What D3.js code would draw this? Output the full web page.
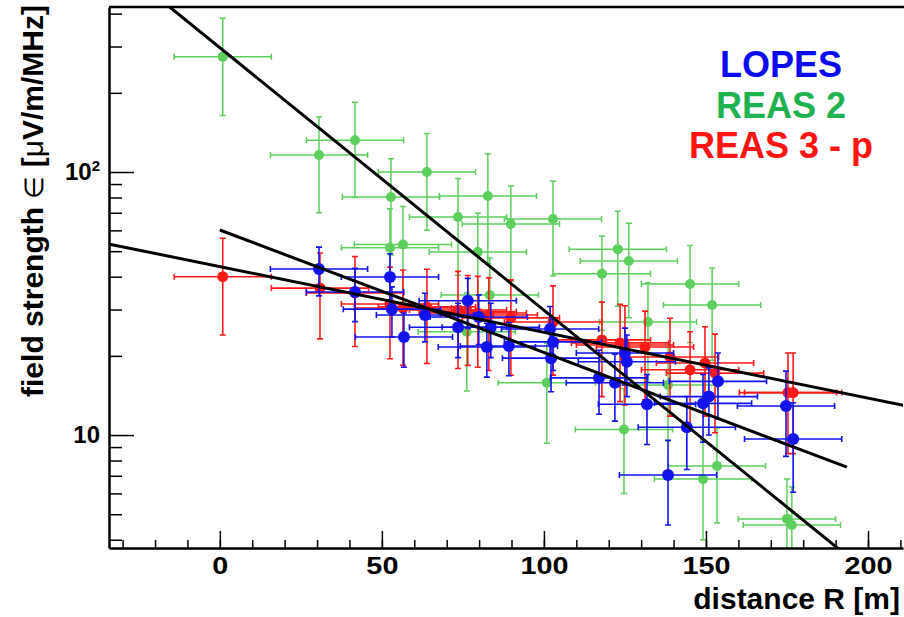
<!DOCTYPE html>
<html>
<head>
<meta charset="utf-8">
<script src="https://cdn.jsdelivr.net/npm/d3@7"></script>
<style>
  body { margin: 0; background: #fff; }
  text { font-family: "Liberation Sans", Arial, sans-serif; font-weight: bold; }
</style>
</head>
<body>
<svg id="chart" width="904" height="617"></svg>
<script>
"use strict";

// REAS 2 (green)
var distReas2 = [0.9, 30.6, 41.7, 52.8, 63.9, 73.5, 82.7, 89.8, 102.8, 52.5, 56.5, 79.6, 122.8, 126.2,
  117.9, 145.1, 151.9, 132.1, 83.3, 76.2, 100.9, 138.3, 124.7, 153.4, 149.1, 175.0, 176.5];
var fieldReas2 = [274, 116, 132, 80.4, 100, 67.5, 81, 63.4, 66.3, 51.5, 53, 49.7, 50.9, 45.9,
  41.0, 37.5, 31.2, 26.9, 34.1, 24.7, 15.8, 15.5, 10.5, 7.63, 6.8, 4.8, 4.55];
var errFieldReas2 = [110, 46, 52, 32, 40, 27, 36, 25, 26, 21, 21, 20, 20, 18,
  16, 15, 12, 11, 13, 10, 6.5, 6, 4.5, 3, 2.8, 2, 1.8];

// REAS 3 - p (red)
var distReas3 = [0.9, 30.9, 41.7, 52.5, 56.5, 63.9, 73.5, 76.5, 79.6, 83.0, 89.8, 102.8, 117.9, 123.5,
  125.0, 131.2, 138.9, 145.1, 149.7, 152.8, 175.3, 176.9];
var fieldReas3 = [40, 36.2, 34.7, 31.5, 30.4, 30.7, 29.9, 29.4, 29.1, 28.6, 27.9, 26.9, 23.0, 22.4,
  22.0, 21.6, 19.8, 17.7, 18.8, 17.2, 14.5, 14.5];
var errFieldReas3 = [16, 13, 13, 12, 12, 12, 12, 11, 11, 11, 11, 10, 9, 9,
  9, 8, 8, 7, 7, 7, 6, 6];

// LOPES (blue)
var distLopes = [30.6, 41.7, 52.5, 53.1, 56.8, 63.3, 73.5, 76.5, 79.9, 83.6, 82.4, 89.2, 101.9, 102.8,
  102.2, 117.0, 121.9, 125.0, 125.6, 131.8, 144.1, 138.3, 149.1, 150.9, 153.7, 174.7, 176.9];
var fieldLopes = [42.8, 35.0, 39.9, 30.1, 23.6, 28.6, 25.7, 32.4, 28.1, 25.7, 21.6, 21.8, 25.3, 22.6,
  19.6, 16.5, 15.8, 20.5, 19.0, 13.1, 10.7, 7.05, 13.2, 14.0, 16.0, 12.9, 9.66];
var errFieldLopes = [9, 8, 9, 6.5, 5.5, 6, 6, 7, 6, 6, 5, 5, 5.5, 5,
  5, 4.5, 4.5, 5, 5, 3.9, 3.3, 2.5, 3.8, 4, 4.5, 4.6, 3.6];

// distance uncertainty [m], same for every point here
var errDist = 15;

// exponential fits: field = amp * 10^(slope * R)
var fitNames = ["REAS 2", "LOPES", "REAS 3 - p"];
var fitAmp = [297, 60.2, 43.7];
var fitSlope = [-0.00998, -0.00466, -0.0025];
var fitFrom = [-34, 0, -34];
var fitTo = [211, 193.5, 211];

var xMajorTicks = [0, 50, 100, 150, 200];
var xMinorTicks = d3.range(-30, 211, 10);
var yMajorTicks = [10, 100];
var yMinorTicks = [4, 5, 6, 7, 8, 9, 20, 30, 40, 50, 60, 70, 80, 90, 200, 300, 400];

var legendNames = ["LOPES", "REAS 2", "REAS 3 - p"];
var legendColors = ["#0a0af0", "#1fb34f", "#ff1414"];

var svg = d3.select("#chart");
var plotL = 109, plotR = 903, plotT = 7, plotB = 548;

var x = d3.scaleLinear().domain([-34.2, 210.8]).range([plotL, plotR]);
var y = d3.scaleLog().domain([3.72, 424]).range([plotB, plotT]);

svg.append("rect").attr("width", 904).attr("height", 617).attr("fill", "#fff");

svg.append("clipPath").attr("id", "plotclip")
  .append("rect")
  .attr("x", plotL).attr("y", plotT)
  .attr("width", plotR - plotL).attr("height", plotB - plotT);

var plot = svg.append("g").attr("clip-path", "url(#plotclip)");

function drawSeries(dist, field, errField, color, radius, width) {
  var g = plot.append("g");
  var pts = dist.map(function(d, i) {
    return { r: d, e: field[i], de: errField[i] };
  });
  var bars = g.selectAll("g.pt").data(pts).enter().append("g")
    .attr("stroke", color).attr("stroke-width", width).attr("fill", "none");
  // horizontal
  bars.append("line")
    .attr("x1", function(p) { return x(p.r - errDist); })
    .attr("x2", function(p) { return x(p.r + errDist); })
    .attr("y1", function(p) { return y(p.e); })
    .attr("y2", function(p) { return y(p.e); });
  // vertical
  bars.append("line")
    .attr("x1", function(p) { return x(p.r); })
    .attr("x2", function(p) { return x(p.r); })
    .attr("y1", function(p) { return y(p.e + p.de); })
    .attr("y2", function(p) { return y(Math.max(p.e - p.de, 0.5)); });
  // caps
  bars.append("path")
    .attr("d", function(p) {
      var cx = x(p.r), cy = y(p.e);
      var xl = x(p.r - errDist), xr = x(p.r + errDist);
      var yt = y(p.e + p.de), yb = y(Math.max(p.e - p.de, 0.5));
      return "M" + xl + "," + (cy - 3) + "V" + (cy + 3) +
        "M" + xr + "," + (cy - 3) + "V" + (cy + 3) +
        "M" + (cx - 3) + "," + yt + "H" + (cx + 3) +
        "M" + (cx - 3) + "," + yb + "H" + (cx + 3);
    });
  g.selectAll("circle").data(pts).enter().append("circle")
    .attr("cx", function(p) { return x(p.r); })
    .attr("cy", function(p) { return y(p.e); })
    .attr("r", radius)
    .attr("fill", color);
}

drawSeries(distReas2, fieldReas2, errFieldReas2, "#5ccf5c", 5, 1.5);
drawSeries(distReas3, fieldReas3, errFieldReas3, "#ff1a1a", 5.5, 1.6);
drawSeries(distLopes, fieldLopes, errFieldLopes, "#1212ec", 6, 1.6);

// fit lines
var fitLine = d3.line()
  .x(function(r) { return x(r); });

fitNames.forEach(function(name, i) {
  var rs = [fitFrom[i], fitTo[i]];
  plot.append("path")
    .attr("d", fitLine.y(function(r) { return y(fitAmp[i] * Math.pow(10, fitSlope[i] * r)); })(rs))
    .attr("fill", "none")
    .attr("stroke", "#000")
    .attr("stroke-width", 3);
});

// axes
var xAxis = svg.append("g")
  .attr("transform", "translate(0," + plotB + ")")
  .call(d3.axisBottom(x).tickValues(xMajorTicks).tickSizeInner(-17).tickSizeOuter(0).tickPadding(9));
xAxis.select(".domain").attr("stroke-width", 2.5);
xAxis.selectAll(".tick line").attr("stroke-width", 1.5);
xAxis.selectAll("text").attr("font-size", "24px").attr("fill", "#000")
  .attr("transform", "scale(1.2,1)");

svg.append("g")
  .attr("transform", "translate(0," + plotB + ")")
  .call(d3.axisBottom(x).tickValues(xMinorTicks).tickSizeInner(-8).tickSizeOuter(0).tickFormat(""))
  .call(function(g) { g.select(".domain").remove(); })
  .selectAll(".tick line").attr("stroke-width", 1.5);

var yAxis = svg.append("g")
  .attr("transform", "translate(" + plotL + ",0)")
  .call(d3.axisLeft(y).tickValues(yMajorTicks).tickSizeInner(-25).tickSizeOuter(0).tickPadding(9)
    .tickFormat(function() { return ""; }));
yAxis.select(".domain").attr("stroke-width", 2.5);
yAxis.selectAll(".tick line").attr("stroke-width", 1.5);
yAxis.selectAll(".tick text").each(function(v) {
  var t = d3.select(this).attr("font-size", "24px").attr("fill", "#000");
  if (v === 100) {
    t.append("tspan").text("10");
    t.append("tspan").attr("font-size", "15px").attr("dy", "-0.6em").text("2");
  } else {
    t.text("10");
  }
});

svg.append("g")
  .attr("transform", "translate(" + plotL + ",0)")
  .call(d3.axisLeft(y).tickValues(yMinorTicks).tickSizeInner(-13).tickSizeOuter(0).tickFormat(""))
  .call(function(g) { g.select(".domain").remove(); })
  .selectAll(".tick line").attr("stroke-width", 1.5);

// top frame
svg.append("line")
  .attr("x1", plotL).attr("x2", 904)
  .attr("y1", plotT).attr("y2", plotT)
  .attr("stroke", "#000").attr("stroke-width", 2.5);

// axis titles
svg.append("text")
  .attr("x", 900).attr("y", 609)
  .attr("text-anchor", "end")
  .attr("font-size", "30px")
  .text("distance R [m]");

var yTitle = svg.append("text")
  .attr("transform", "translate(43,5) rotate(-90)")
  .attr("text-anchor", "end")
  .attr("font-size", "30px");
yTitle.append("tspan").text("field strength ");
yTitle.append("tspan").attr("font-weight", "normal").attr("font-size", "26px").text("\u2208");
yTitle.append("tspan").text(" [");
yTitle.append("tspan").attr("font-weight", "normal").text("\u03bc");
yTitle.append("tspan").text("V/m/MHz]");

// legend
svg.append("g").selectAll("text")
  .data(legendNames)
  .enter()
  .append("text")
  .attr("x", 781)
  .attr("y", function(d, i) { return 77 + i * 40.5; })
  .attr("text-anchor", "middle")
  .attr("font-size", "36px")
  .attr("fill", function(d, i) { return legendColors[i]; })
  .text(function(d) { return d; });
</script>
</body>
</html>
